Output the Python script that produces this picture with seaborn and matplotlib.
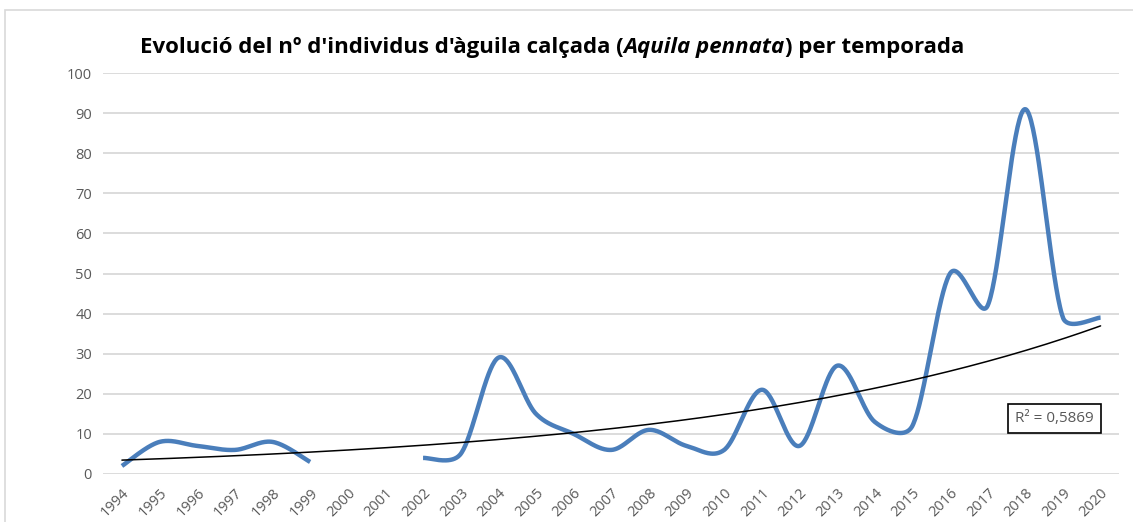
import matplotlib
matplotlib.use("Agg")
import matplotlib.pyplot as plt
from matplotlib.patches import Rectangle
import numpy as np
import pandas as pd
import seaborn as sns

# data (2000 and 2001 have no value)
years = [1994, 1995, 1996, 1997, 1998, 1999, 2000, 2001, 2002, 2003, 2004,
         2005, 2006, 2007, 2008, 2009, 2010, 2011, 2012, 2013, 2014, 2015,
         2016, 2017, 2018, 2019, 2020]
individus = [2, 8, 7, 6, 8, 3, np.nan, np.nan, 4, 5, 29,
             15, 10, 6, 11, 7, 6, 21, 7, 27, 13, 12,
             50, 42, 91, 39, 39]
y_ticks = [0, 10, 20, 30, 40, 50, 60, 70, 80, 90, 100]
r2_label = "R² = 0,5869"

BLUE = "#4a7ebb"
GREY_TXT = "#595959"

# pixel size of one unit on each axis, used by the smoothing
PX_X, PX_Y = 37.6, 4.01


def excel_smooth(xs, ys, n=40, cap=0.4):
    # bezier smoothing (tension 1/6), control arms capped by segment length
    pts = np.column_stack([xs, ys]).astype(float)
    scale = np.array([PX_X, PX_Y])
    px, py = [], []
    m = len(pts)
    for i in range(m - 1):
        i0 = max(i - 1, 0)
        i3 = min(i + 2, m - 1)
        p0, p3 = pts[i], pts[i + 1]
        seg_len = np.linalg.norm((p3 - p0) * scale)
        v1 = (pts[i + 1] - pts[i0]) / 6
        v2 = (pts[i3] - pts[i]) / 6
        for v in (v1, v2):
            l = np.linalg.norm(v * scale)
            if l > cap * seg_len:
                v *= cap * seg_len / l
        c1 = p0 + v1
        c2 = p3 - v2
        t = np.linspace(0, 1, n)[:, None]
        seg = ((1 - t) ** 3) * p0 + 3 * ((1 - t) ** 2) * t * c1 + 3 * (1 - t) * t ** 2 * c2 + t ** 3 * p3
        px.extend(seg[:, 0])
        py.extend(seg[:, 1])
    return np.array(px), np.array(py)


df = pd.DataFrame({"any": years, "n": individus})
df["pos"] = np.arange(len(df))

sns.set_style("white")
plt.rcParams["font.family"] = ["Open Sans", "DejaVu Sans"]

fig = plt.figure(figsize=(11.33, 5.22), dpi=100)
ax = fig.add_axes([0.091, 0.092, 0.897, 0.768])

# outer chart border
fig.patches.append(Rectangle((0.004, -0.01), 1.2, 0.99, transform=fig.transFigure,
                             fill=False, edgecolor="#d9d9d9", linewidth=1.2))

# smoothed line, one piece per run without gaps
seg = df["n"].isna().cumsum()
for _, part in df.dropna().groupby(seg[df["n"].notna()]):
    sx, sy = excel_smooth(part["pos"].values, part["n"].values)
    ax.plot(sx, sy, color=BLUE, linewidth=3.2, solid_capstyle="butt", zorder=3)

# exponential trend line (excel uses positions 1..n)
valid = df.dropna()
b, a = np.polyfit(valid["pos"] + 1, np.log(valid["n"]), 1)
trend = pd.DataFrame({"pos": np.linspace(0, len(df) - 1, 200)})
trend["y"] = np.exp(a + b * (trend["pos"] + 1))
sns.lineplot(data=trend, x="pos", y="y", ax=ax, color="black", linewidth=1.1, zorder=4)

ax.set_xlim(-0.5, len(df) - 0.5)
ax.set_ylim(0, 100)
ax.set_yticks(y_ticks)
ax.set_xticks(df["pos"])
ax.set_xticklabels(years, rotation=45, ha="right", rotation_mode="anchor")
ax.tick_params(axis="both", labelsize=10.5, colors=GREY_TXT, length=0, pad=8)
ax.grid(axis="y", color="#d9d9d9", linewidth=1.3)
ax.set_axisbelow(True)
for s in ax.spines.values():
    s.set_visible(False)
ax.set_xlabel("")
ax.set_ylabel("")

ax.text(0.975, 0.138, r2_label, transform=ax.transAxes, ha="right", va="center",
        fontsize=11, color=GREY_TXT,
        bbox=dict(boxstyle="square,pad=0.45", facecolor="white", edgecolor="black", linewidth=1.2))

# title in pieces so the latin name can be italic
pieces = [("Evolució del nº d'individus d'àguila calçada (", "normal"),
          ("Aquila pennata", "italic"),
          (") per temporada", "normal")]
fig.canvas.draw()
renderer = fig.canvas.get_renderer()
x0 = 140 / 1133
ytit = 1 - 53 / 522
cur = x0
for txt, sty in pieces:
    t = fig.text(cur, ytit, txt, fontsize=16, fontweight="bold", style=sty,
                 ha="left", va="baseline", color="black")
    bb = t.get_window_extent(renderer)
    cur += bb.width / fig.bbox.width

fig.savefig("out.png", dpi=100)
